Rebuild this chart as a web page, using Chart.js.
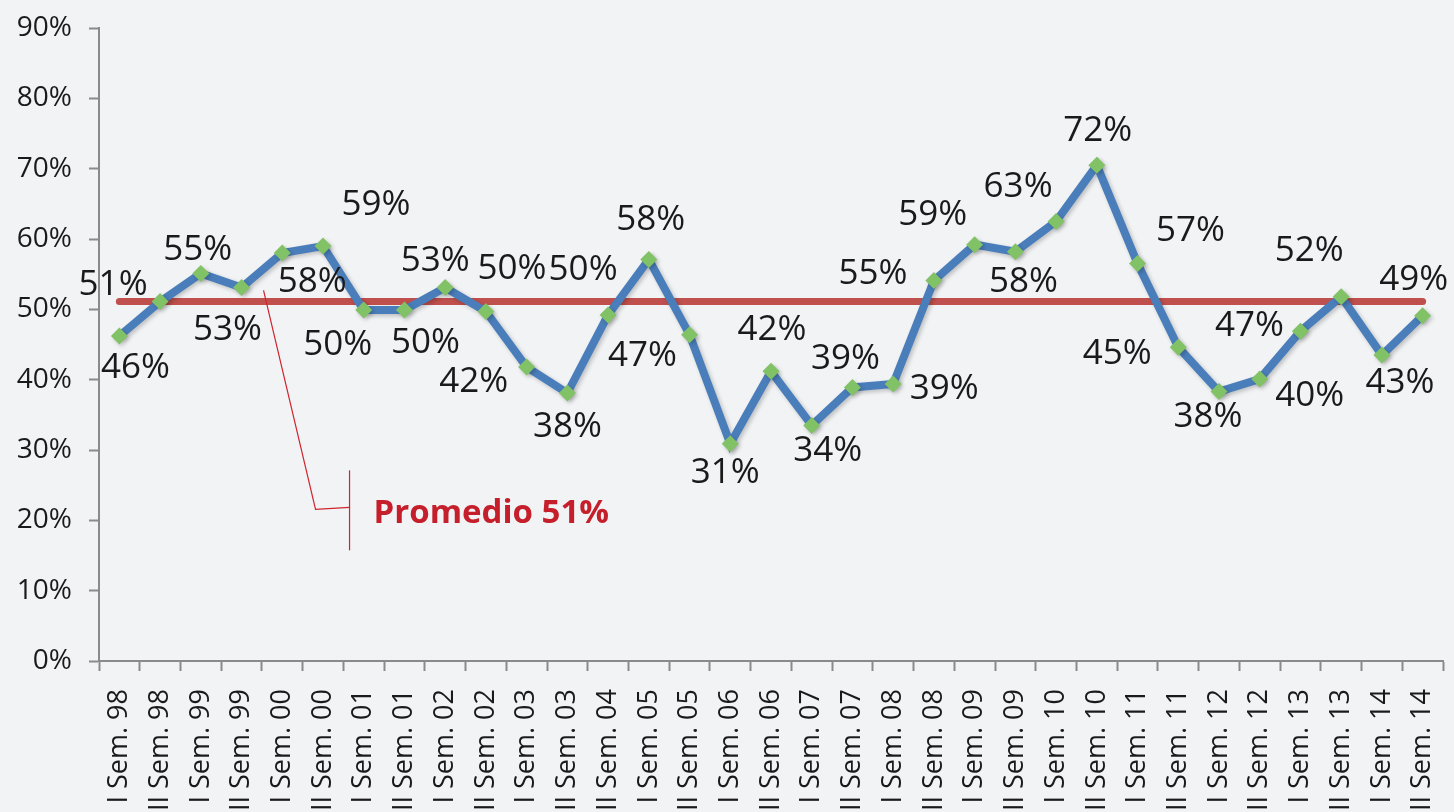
<!DOCTYPE html>
<html>
<head>
<meta charset="utf-8">
<script src="https://cdn.jsdelivr.net/npm/chart.js@4.4.1/dist/chart.umd.min.js"></script>
<style>
  html, body { margin: 0; padding: 0; background: #f2f3f5; }
  #wrap { width: 1454px; height: 812px; position: relative; }
</style>
</head>
<body>
<div id="wrap"><canvas id="c"></canvas></div>
<script>
// ---- data ----
const categories = [
  "I Sem. 98", "II Sem. 98", "I Sem. 99", "II Sem. 99", "I Sem. 00", "II Sem. 00",
  "I Sem. 01", "II Sem. 01", "I Sem. 02", "II Sem. 02", "I Sem. 03", "II Sem. 03",
  "II Sem. 04", "I Sem. 05", "II Sem. 05", "I Sem. 06", "II Sem. 06", "I Sem. 07",
  "II Sem. 07", "I Sem. 08", "II Sem. 08", "I Sem. 09", "II Sem. 09", "I Sem. 10",
  "II Sem. 10", "I Sem. 11", "II Sem. 11", "I Sem. 12", "II Sem. 12", "I Sem. 13",
  "II Sem. 13", "I Sem. 14", "II Sem. 14"
];
const values = [
  46.2, 51.1, 55.1, 53.1, 58.0, 59.0, 49.9, 49.9, 53.1, 49.7, 41.8,
  38.1, 49.2, 57.1, 46.4, 30.9, 41.2, 33.5, 38.9, 39.4, 54.1, 59.2,
  58.2, 62.5, 70.5, 56.5, 44.6, 38.3, 40.1, 46.9, 51.8, 43.5, 49.1
];
const valueLabels = [
  "46%", "51%", "55%", "53%", "58%", "59%", "50%", "50%", "53%", "50%", "42%",
  "38%", "50%", "58%", "47%", "31%", "42%", "34%", "39%", "39%", "55%", "59%",
  "58%", "63%", "72%", "57%", "45%", "38%", "40%", "47%", "52%", "43%", "49%"
];
const averageValue = 51.1;
const averageText = "Promedio 51%";
const yTicks = [0, 10, 20, 30, 40, 50, 60, 70, 80, 90];

// ---- label placement (pixel offsets from each point) ----
const labelOffsets = [
  [16, 32], [-47, -17], [-3, -23], [-14, 43], [30, 29], [53, -41], [-26, 35],
  [21, 33], [-10, -26], [26, -42], [-53, 15], [0, 34], [-25, -45], [2, -39],
  [-47, 21], [-5, 29], [1, -41], [16, 26], [-7, -28], [51, 5], [-61, -6],
  [-42, -30], [8, 30], [-38, -34], [1, -34], [53, -33], [-61, 7], [-11, 25],
  [50, 17], [-51, -5], [-32, -46], [18, 28], [-9, -36]
];

const FONT = "'Open Sans', 'Noto Sans', 'DejaVu Sans', sans-serif";
const AXIS_GREY = '#8a8a8a';

const labelPlugin = {
  id: 'valueLabels',
  afterDatasetsDraw(chart) {
    const meta = chart.getDatasetMeta(0);
    const ctx = chart.ctx;
    ctx.save();
    ctx.font = "35px " + FONT;
    ctx.fillStyle = '#1a1a1a';
    ctx.textAlign = 'center';
    ctx.textBaseline = 'middle';
    meta.data.forEach((pt, i) => {
      const off = labelOffsets[i];
      ctx.fillText(valueLabels[i], pt.x + off[0], pt.y + off[1]);
    });
    ctx.restore();
  }
};

const calloutPlugin = {
  id: 'callout',
  afterDatasetsDraw(chart) {
    const xs = chart.scales.x, ys = chart.scales.y;
    const ctx = chart.ctx;
    const step = xs.getPixelForValue(4) - xs.getPixelForValue(3);
    const x0 = xs.getPixelForValue(3) + 0.54 * step;
    const y0 = ys.getPixelForValue(averageValue + 1.6);
    const x1 = x0 + 52, y1 = y0 + 219;
    const xb = x0 + 86;
    ctx.save();
    ctx.strokeStyle = '#d0232d';
    ctx.lineWidth = 1.2;
    ctx.beginPath();
    ctx.moveTo(x0, y0);
    ctx.lineTo(x1, y1);
    ctx.lineTo(xb, y1 - 2);
    ctx.stroke();
    ctx.beginPath();
    ctx.moveTo(xb, y1 - 39);
    ctx.lineTo(xb, y1 + 41);
    ctx.stroke();
    ctx.font = "bold 33px " + FONT;
    ctx.fillStyle = '#c41f2a';
    ctx.textAlign = 'left';
    ctx.textBaseline = 'middle';
    ctx.fillText(averageText, xb + 24, y1 + 4);
    ctx.restore();
  }
};

const shadowPlugin = {
  id: 'lineShadow',
  beforeDatasetDraw(chart, args) {
    if (args.index === 0) {
      const ctx = chart.ctx;
      ctx.save();
      ctx.shadowColor = 'rgba(0,0,0,0.22)';
      ctx.shadowBlur = 4;
      ctx.shadowOffsetX = 2;
      ctx.shadowOffsetY = 2;
    }
  },
  afterDatasetDraw(chart, args) {
    if (args.index === 0) chart.ctx.restore();
  }
};

new Chart(document.getElementById('c'), {
  type: 'line',
  data: {
    labels: categories,
    datasets: [
      {
        data: values,
        borderColor: '#4a7ebb',
        borderWidth: 8,
        tension: 0,
        pointStyle: 'rectRot',
        pointRadius: 8.5,
        pointBackgroundColor: '#82c266',
        pointBorderColor: '#82c266',
        pointBorderWidth: 0,
        fill: false
      },
      {
        data: categories.map(() => averageValue),
        borderColor: '#c0504d',
        borderWidth: 7,
        borderCapStyle: 'round',
        pointRadius: 0,
        fill: false
      }
    ]
  },
  options: {
    responsive: true,
    maintainAspectRatio: false,
    animation: false,
    layout: { padding: { top: 28, right: 11, left: 0, bottom: 0 } },
    plugins: { legend: { display: false }, tooltip: { enabled: false } },
    scales: {
      x: {
        type: 'category',
        offset: true,
        grid: { display: true, drawOnChartArea: false, drawTicks: true, tickLength: 10, tickColor: AXIS_GREY, tickWidth: 2, offset: true },
        border: { display: true, color: AXIS_GREY, width: 2 },
        ticks: {
          autoSkip: false, minRotation: 90, maxRotation: 90, padding: 18,
          color: '#1a1a1a', font: { family: FONT, size: 27 }
        },
        afterFit(s) { s.height = 151; s.paddingLeft = 0; s.paddingRight = 0; }
      },
      y: {
        min: 0, max: 90,
        afterBuildTicks(s) { s.ticks = yTicks.map(v => ({ value: v })); },
        grid: { display: true, drawOnChartArea: false, drawTicks: true, tickLength: 10, tickColor: AXIS_GREY, tickWidth: 2 },
        border: { display: true, color: AXIS_GREY, width: 2 },
        ticks: {
          padding: 17, color: '#1a1a1a', font: { family: FONT, size: 28 },
          callback: v => v + '%'
        },
        afterFit(s) { s.width = 99; s.paddingTop = 0; s.paddingBottom = 0; }
      }
    }
  },
  plugins: [shadowPlugin, labelPlugin, calloutPlugin]
});
</script>
</body>
</html>
